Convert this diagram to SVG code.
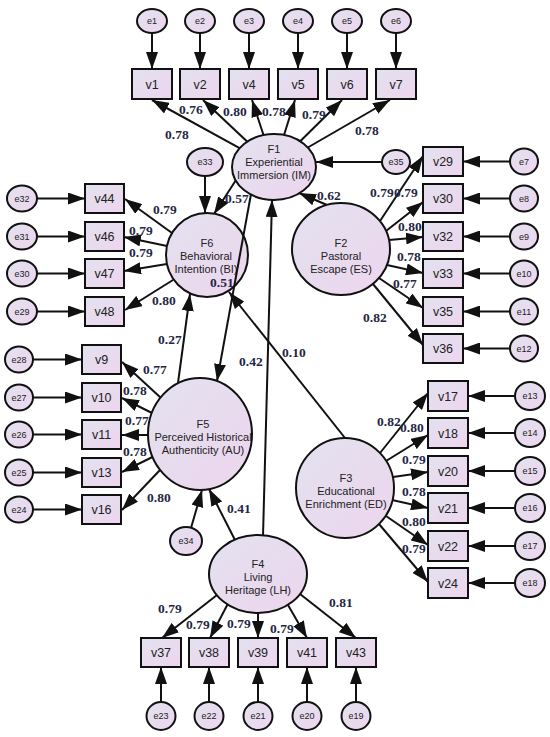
<svg xmlns="http://www.w3.org/2000/svg" width="550" height="737" viewBox="0 0 550 737">
<defs>
<linearGradient id="g" x1="0" y1="0" x2="1" y2="1">
<stop offset="0" stop-color="#e2e2ef"/>
<stop offset="1" stop-color="#eed5ee"/>
</linearGradient>
<marker id="ah" viewBox="0 0 17 12" refX="17" refY="6" markerWidth="17" markerHeight="12" markerUnits="userSpaceOnUse" orient="auto">
<path d="M0,0 L17,6 L0,12 z" fill="#111"/>
</marker>
<style>
.n ellipse, .n rect { fill: url(#g); stroke: #111; stroke-width: 2; }
#conn line { stroke: #111; stroke-width: 2; marker-end: url(#ah); fill: none; }
.t { font-family: "Liberation Sans", Arial, sans-serif; font-size: 11px; fill: #222; text-anchor: middle; }
.vt { font-family: "Liberation Sans", Arial, sans-serif; font-size: 12.5px; fill: #222; text-anchor: middle; }
.et { font-family: "Liberation Sans", Arial, sans-serif; font-size: 9px; fill: #222; text-anchor: middle; }
.lab { font-family: "Liberation Serif", "Times New Roman", serif; font-weight: bold; font-size: 13.5px; fill: #1f2744; }
</style>
</defs>
<rect width="550" height="737" fill="#fff"/>

<g id="conn">
<line x1="152" y1="33" x2="152" y2="69"/>
<line x1="200" y1="33" x2="200" y2="69"/>
<line x1="249" y1="33" x2="249" y2="69"/>
<line x1="298" y1="33" x2="298" y2="69"/>
<line x1="347" y1="33" x2="347" y2="69"/>
<line x1="396" y1="33" x2="396" y2="69"/>
<line x1="239.6" y1="148.1" x2="152" y2="100"/>
<line x1="247.1" y1="141.6" x2="203" y2="100"/>
<line x1="263.5" y1="135" x2="252" y2="100"/>
<line x1="284" y1="135" x2="295" y2="100"/>
<line x1="300.2" y1="141.2" x2="342" y2="100"/>
<line x1="307.8" y1="147.5" x2="390" y2="100"/>
<line x1="382" y1="162" x2="316" y2="162"/>
<line x1="205" y1="176" x2="205" y2="213"/>
<line x1="236" y1="180" x2="214" y2="214"/>
<line x1="263" y1="536" x2="272" y2="200"/>
<line x1="327" y1="205" x2="299" y2="193"/>
<line x1="380" y1="221" x2="423" y2="156"/>
<line x1="386" y1="231" x2="423" y2="202"/>
<line x1="389" y1="240" x2="423" y2="237"/>
<line x1="387" y1="265" x2="423" y2="273"/>
<line x1="379" y1="278" x2="423" y2="308"/>
<line x1="373" y1="284" x2="423" y2="345"/>
<line x1="510" y1="161.5" x2="463" y2="161.5"/>
<line x1="510" y1="198.5" x2="463" y2="198.5"/>
<line x1="510" y1="236.5" x2="463" y2="236.5"/>
<line x1="510" y1="273.5" x2="463" y2="273.5"/>
<line x1="510" y1="311.5" x2="463" y2="311.5"/>
<line x1="510" y1="348.5" x2="463" y2="348.5"/>
<line x1="172" y1="233" x2="125" y2="199"/>
<line x1="167" y1="246" x2="124" y2="237"/>
<line x1="167" y1="264" x2="124" y2="271"/>
<line x1="173" y1="280" x2="125" y2="310"/>
<line x1="37" y1="198.5" x2="85" y2="198.5"/>
<line x1="37" y1="236.5" x2="85" y2="236.5"/>
<line x1="37" y1="273.5" x2="85" y2="273.5"/>
<line x1="37" y1="311.5" x2="85" y2="311.5"/>
<line x1="161" y1="398" x2="122" y2="362"/>
<line x1="152" y1="413" x2="122" y2="398"/>
<line x1="148" y1="435" x2="122" y2="435"/>
<line x1="152.5" y1="457" x2="122" y2="472"/>
<line x1="160" y1="470" x2="122" y2="510"/>
<line x1="33" y1="359.5" x2="82" y2="359.5"/>
<line x1="33" y1="397.5" x2="82" y2="397.5"/>
<line x1="33" y1="434.5" x2="82" y2="434.5"/>
<line x1="33" y1="472.5" x2="82" y2="472.5"/>
<line x1="33" y1="509.5" x2="82" y2="509.5"/>
<line x1="178" y1="383" x2="190" y2="294"/>
<line x1="345" y1="438" x2="229" y2="292"/>
<line x1="235" y1="540" x2="209" y2="489"/>
<line x1="191" y1="528" x2="202" y2="490"/>
<line x1="217" y1="595" x2="162" y2="638"/>
<line x1="227.5" y1="604.5" x2="210" y2="638"/>
<line x1="258" y1="613" x2="258" y2="638"/>
<line x1="288" y1="605" x2="307" y2="638"/>
<line x1="300" y1="594" x2="356" y2="638"/>
<line x1="161" y1="702" x2="161" y2="667"/>
<line x1="209" y1="702" x2="209" y2="667"/>
<line x1="258" y1="702" x2="258" y2="667"/>
<line x1="307" y1="702" x2="307" y2="667"/>
<line x1="356" y1="702" x2="356" y2="667"/>
<line x1="380" y1="453" x2="428" y2="393"/>
<line x1="386" y1="461" x2="428" y2="435"/>
<line x1="393" y1="477" x2="428" y2="472"/>
<line x1="392" y1="500" x2="428" y2="508"/>
<line x1="386" y1="516" x2="428" y2="545"/>
<line x1="379" y1="524" x2="428" y2="582"/>
<line x1="515" y1="396" x2="468" y2="396"/>
<line x1="515" y1="433" x2="468" y2="433"/>
<line x1="515" y1="471" x2="468" y2="471"/>
<line x1="515" y1="508" x2="468" y2="508"/>
<line x1="515" y1="546" x2="468" y2="546"/>
<line x1="515" y1="583" x2="468" y2="583"/>
</g>

<g id="F1" class="n"><ellipse cx="274" cy="167" rx="42" ry="33"/><text class="t" x="274" y="153">F1</text><text class="t" x="274" y="166">Experiential</text><text class="t" x="274" y="179">Immersion (IM)</text></g>
<g id="F2" class="n"><ellipse cx="341" cy="249" rx="49" ry="46"/><text class="t" x="341" y="247">F2</text><text class="t" x="341" y="260">Pastoral</text><text class="t" x="341" y="273">Escape (ES)</text></g>
<g id="F3" class="n"><ellipse cx="345" cy="488" rx="49" ry="50"/><text class="t" x="346" y="482">F3</text><text class="t" x="346" y="495">Educational</text><text class="t" x="346" y="508">Enrichment (ED)</text></g>
<g id="F4" class="n"><ellipse cx="258" cy="574" rx="49" ry="39"/><text class="t" x="258" y="568">F4</text><text class="t" x="258" y="581">Living</text><text class="t" x="258" y="594">Heritage (LH)</text></g>
<g id="F5" class="n"><ellipse cx="200" cy="434" rx="52" ry="56"/><text class="t" x="203" y="428">F5</text><text class="t" x="203" y="441">Perceived Historical</text><text class="t" x="203" y="454">Authenticity (AU)</text></g>
<g id="F6" class="n"><ellipse cx="207" cy="255" rx="41" ry="42"/><text class="t" x="207" y="247">F6</text><text class="t" x="206" y="260">Behavioral</text><text class="t" x="206" y="273">Intention (BI)</text></g>

<g id="conn-over">
<line x1="251" y1="194" x2="217" y2="381" stroke="#111" stroke-width="2" marker-end="url(#ah)"/>
</g>

<g id="v1" class="n"><rect x="132" y="69" width="40" height="30"/><text class="vt" x="152" y="88.5">v1</text></g>
<g id="v2" class="n"><rect x="180" y="69" width="40" height="30"/><text class="vt" x="200" y="88.5">v2</text></g>
<g id="v4" class="n"><rect x="229" y="69" width="40" height="30"/><text class="vt" x="249" y="88.5">v4</text></g>
<g id="v5" class="n"><rect x="278" y="69" width="40" height="30"/><text class="vt" x="298" y="88.5">v5</text></g>
<g id="v6" class="n"><rect x="327" y="69" width="40" height="30"/><text class="vt" x="347" y="88.5">v6</text></g>
<g id="v7" class="n"><rect x="376" y="69" width="40" height="30"/><text class="vt" x="396" y="88.5">v7</text></g>
<g id="e1" class="n"><ellipse cx="152" cy="21" rx="15" ry="12"/><text class="et" x="152" y="24">e1</text></g>
<g id="e2" class="n"><ellipse cx="200" cy="21" rx="15" ry="12"/><text class="et" x="200" y="24">e2</text></g>
<g id="e3" class="n"><ellipse cx="249" cy="21" rx="15" ry="12"/><text class="et" x="249" y="24">e3</text></g>
<g id="e4" class="n"><ellipse cx="298" cy="21" rx="15" ry="12"/><text class="et" x="298" y="24">e4</text></g>
<g id="e5" class="n"><ellipse cx="347" cy="21" rx="15" ry="12"/><text class="et" x="347" y="24">e5</text></g>
<g id="e6" class="n"><ellipse cx="396" cy="21" rx="15" ry="12"/><text class="et" x="396" y="24">e6</text></g>
<g id="e35" class="n"><ellipse cx="396" cy="162" rx="14" ry="12"/><text class="et" x="396" y="165">e35</text></g>
<g id="e33" class="n"><ellipse cx="205" cy="162" rx="18" ry="14"/><text class="et" x="205" y="165">e33</text></g>

<g id="v29" class="n"><rect x="423" y="147" width="40" height="29"/><text class="vt" x="443" y="166">v29</text></g>
<g id="v30" class="n"><rect x="423" y="184" width="40" height="29"/><text class="vt" x="443" y="203">v30</text></g>
<g id="v32" class="n"><rect x="423" y="222" width="40" height="29"/><text class="vt" x="443" y="241">v32</text></g>
<g id="v33" class="n"><rect x="423" y="259" width="40" height="29"/><text class="vt" x="443" y="278">v33</text></g>
<g id="v35" class="n"><rect x="423" y="297" width="40" height="29"/><text class="vt" x="443" y="316">v35</text></g>
<g id="v36" class="n"><rect x="423" y="334" width="40" height="29"/><text class="vt" x="443" y="353">v36</text></g>
<g id="e7" class="n"><ellipse cx="524" cy="161.5" rx="14" ry="13"/><text class="et" x="524" y="164.5">e7</text></g>
<g id="e8" class="n"><ellipse cx="524" cy="198.5" rx="14" ry="13"/><text class="et" x="524" y="201.5">e8</text></g>
<g id="e9" class="n"><ellipse cx="524" cy="236.5" rx="14" ry="13"/><text class="et" x="524" y="239.5">e9</text></g>
<g id="e10" class="n"><ellipse cx="524" cy="273.5" rx="14" ry="13"/><text class="et" x="524" y="276.5">e10</text></g>
<g id="e11" class="n"><ellipse cx="524" cy="311.5" rx="14" ry="13"/><text class="et" x="524" y="314.5">e11</text></g>
<g id="e12" class="n"><ellipse cx="524" cy="348.5" rx="14" ry="13"/><text class="et" x="524" y="351.5">e12</text></g>

<g id="v44" class="n"><rect x="85" y="184" width="39" height="29"/><text class="vt" x="104.5" y="203">v44</text></g>
<g id="v46" class="n"><rect x="85" y="222" width="39" height="29"/><text class="vt" x="104.5" y="241">v46</text></g>
<g id="v47" class="n"><rect x="85" y="259" width="39" height="29"/><text class="vt" x="104.5" y="278">v47</text></g>
<g id="v48" class="n"><rect x="85" y="297" width="39" height="29"/><text class="vt" x="104.5" y="316">v48</text></g>
<g id="e32" class="n"><ellipse cx="22" cy="198.5" rx="15" ry="13"/><text class="et" x="22" y="201.5">e32</text></g>
<g id="e31" class="n"><ellipse cx="22" cy="236.5" rx="15" ry="13"/><text class="et" x="22" y="239.5">e31</text></g>
<g id="e30" class="n"><ellipse cx="22" cy="273.5" rx="15" ry="13"/><text class="et" x="22" y="276.5">e30</text></g>
<g id="e29" class="n"><ellipse cx="22" cy="311.5" rx="15" ry="13"/><text class="et" x="22" y="314.5">e29</text></g>

<g id="v9" class="n"><rect x="82" y="345" width="39" height="29"/><text class="vt" x="101.5" y="364">v9</text></g>
<g id="v10" class="n"><rect x="82" y="383" width="39" height="29"/><text class="vt" x="101.5" y="402">v10</text></g>
<g id="v11" class="n"><rect x="82" y="420" width="39" height="29"/><text class="vt" x="101.5" y="439">v11</text></g>
<g id="v13" class="n"><rect x="82" y="458" width="39" height="29"/><text class="vt" x="101.5" y="477">v13</text></g>
<g id="v16" class="n"><rect x="82" y="495" width="39" height="29"/><text class="vt" x="101.5" y="514">v16</text></g>
<g id="e28" class="n"><ellipse cx="19" cy="359.5" rx="14" ry="13"/><text class="et" x="19" y="362.5">e28</text></g>
<g id="e27" class="n"><ellipse cx="19" cy="397.5" rx="14" ry="13"/><text class="et" x="19" y="400.5">e27</text></g>
<g id="e26" class="n"><ellipse cx="19" cy="434.5" rx="14" ry="13"/><text class="et" x="19" y="437.5">e26</text></g>
<g id="e25" class="n"><ellipse cx="19" cy="472.5" rx="14" ry="13"/><text class="et" x="19" y="475.5">e25</text></g>
<g id="e24" class="n"><ellipse cx="19" cy="509.5" rx="14" ry="13"/><text class="et" x="19" y="512.5">e24</text></g>
<g id="e34" class="n"><ellipse cx="186" cy="541" rx="16" ry="14"/><text class="et" x="186" y="544">e34</text></g>

<g id="v17" class="n"><rect x="428" y="381" width="40" height="30"/><text class="vt" x="448" y="400.5">v17</text></g>
<g id="v18" class="n"><rect x="428" y="418" width="40" height="30"/><text class="vt" x="448" y="437.5">v18</text></g>
<g id="v20" class="n"><rect x="428" y="456" width="40" height="30"/><text class="vt" x="448" y="475.5">v20</text></g>
<g id="v21" class="n"><rect x="428" y="493" width="40" height="30"/><text class="vt" x="448" y="512.5">v21</text></g>
<g id="v22" class="n"><rect x="428" y="531" width="40" height="30"/><text class="vt" x="448" y="550.5">v22</text></g>
<g id="v24" class="n"><rect x="428" y="568" width="40" height="30"/><text class="vt" x="448" y="587.5">v24</text></g>
<g id="e13" class="n"><ellipse cx="530" cy="396" rx="15" ry="14"/><text class="et" x="530" y="399">e13</text></g>
<g id="e14" class="n"><ellipse cx="530" cy="433" rx="15" ry="14"/><text class="et" x="530" y="436">e14</text></g>
<g id="e15" class="n"><ellipse cx="530" cy="471" rx="15" ry="14"/><text class="et" x="530" y="474">e15</text></g>
<g id="e16" class="n"><ellipse cx="530" cy="508" rx="15" ry="14"/><text class="et" x="530" y="511">e16</text></g>
<g id="e17" class="n"><ellipse cx="530" cy="546" rx="15" ry="14"/><text class="et" x="530" y="549">e17</text></g>
<g id="e18" class="n"><ellipse cx="530" cy="583" rx="15" ry="14"/><text class="et" x="530" y="586">e18</text></g>

<g id="v37" class="n"><rect x="141" y="638" width="40" height="29"/><text class="vt" x="161" y="657">v37</text></g>
<g id="v38" class="n"><rect x="189" y="638" width="40" height="29"/><text class="vt" x="209" y="657">v38</text></g>
<g id="v39" class="n"><rect x="238" y="638" width="40" height="29"/><text class="vt" x="258" y="657">v39</text></g>
<g id="v41" class="n"><rect x="287" y="638" width="40" height="29"/><text class="vt" x="307" y="657">v41</text></g>
<g id="v43" class="n"><rect x="336" y="638" width="40" height="29"/><text class="vt" x="356" y="657">v43</text></g>
<g id="e23" class="n"><ellipse cx="161" cy="716" rx="14.5" ry="14"/><text class="et" x="161" y="719">e23</text></g>
<g id="e22" class="n"><ellipse cx="209" cy="716" rx="14.5" ry="14"/><text class="et" x="209" y="719">e22</text></g>
<g id="e21" class="n"><ellipse cx="258" cy="716" rx="14.5" ry="14"/><text class="et" x="258" y="719">e21</text></g>
<g id="e20" class="n"><ellipse cx="307" cy="716" rx="14.5" ry="14"/><text class="et" x="307" y="719">e20</text></g>
<g id="e19" class="n"><ellipse cx="356" cy="716" rx="14.5" ry="14"/><text class="et" x="356" y="719">e19</text></g>

<g id="labels">
<text class="lab" x="165" y="139">0.78</text>
<text class="lab" x="179" y="114">0.76</text>
<text class="lab" x="223" y="116">0.80</text>
<text class="lab" x="262" y="116">0.78</text>
<text class="lab" x="302" y="119">0.79</text>
<text class="lab" x="355" y="135">0.78</text>
<text class="lab" x="225" y="203">0.57</text>
<text class="lab" x="317" y="200">0.62</text>
<text class="lab" x="370" y="197">0.79</text>
<text class="lab" x="394" y="197">0.79</text>
<text class="lab" x="398" y="231">0.80</text>
<text class="lab" x="397" y="261">0.78</text>
<text class="lab" x="393" y="288">0.77</text>
<text class="lab" x="363" y="322">0.82</text>
<text class="lab" x="153" y="214">0.79</text>
<text class="lab" x="129" y="235">0.79</text>
<text class="lab" x="129" y="257">0.79</text>
<text class="lab" x="152" y="305">0.80</text>
<text class="lab" x="210" y="287">0.51</text>
<text class="lab" x="158" y="344">0.27</text>
<text class="lab" x="239" y="366">0.42</text>
<text class="lab" x="282" y="357">0.10</text>
<text class="lab" x="143" y="374">0.77</text>
<text class="lab" x="123" y="395">0.78</text>
<text class="lab" x="125" y="425">0.77</text>
<text class="lab" x="123" y="456">0.78</text>
<text class="lab" x="147" y="502">0.80</text>
<text class="lab" x="227" y="513">0.41</text>
<text class="lab" x="377" y="426">0.82</text>
<text class="lab" x="400" y="432">0.80</text>
<text class="lab" x="402" y="464">0.79</text>
<text class="lab" x="402" y="496">0.78</text>
<text class="lab" x="402" y="526">0.80</text>
<text class="lab" x="402" y="553">0.79</text>
<text class="lab" x="158" y="613">0.79</text>
<text class="lab" x="186" y="629">0.79</text>
<text class="lab" x="227" y="628">0.79</text>
<text class="lab" x="270" y="633">0.79</text>
<text class="lab" x="329" y="607">0.81</text>
</g>
</svg>
